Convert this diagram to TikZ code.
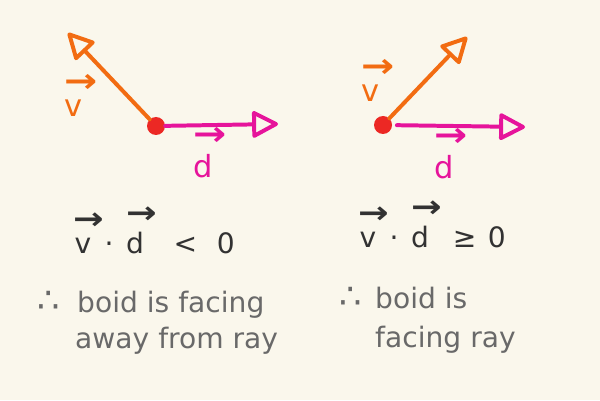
\documentclass[tikz,border=0pt]{standalone}
\usepackage{fontspec}
\setmainfont{DejaVu Sans}
\usetikzlibrary{arrows.meta}
\definecolor{paper}{RGB}{250,247,236}
\definecolor{velorange}{RGB}{242,108,18}
\definecolor{raymagenta}{RGB}{230,20,155}
\definecolor{boidred}{RGB}{236,40,36}
\definecolor{inkdark}{RGB}{50,50,50}
\definecolor{inkgray}{RGB}{105,105,105}
\newcommand{\vecover}[1]{\shortstack{\hspace*{0.45em}\scalebox{1.3}[1.1]{\textbf{→}}\\[0.15em]#1}}

\begin{document}
\begin{tikzpicture}[x=0.03cm, y=-0.03cm,
        boid/.style={circle, fill=boidred, minimum size=0.54cm, inner sep=0pt},
        vecline/.style={line width=3.4pt, line cap=round, line join=round, -{Triangle[open, length=0.85cm, width=0.85cm, line join=round]}},
        veclabel/.style={font=\fontsize{26}{26}\selectfont, inner sep=0pt, anchor=base},
        formula/.style={font=\fontsize{24}{24}\selectfont, text=inkdark, inner sep=0pt, anchor=base west},
        caption/.style={font=\fontsize{24}{24}\selectfont, text=inkgray, inner sep=0pt, anchor=base west},
        therefore/.style={font=\fontsize{30}{30}\selectfont, text=inkgray, inner sep=0pt, anchor=base east}
    ]
        \fill[paper] (0,0) rectangle (600,400);

        % facing away
        \node[boid] (boidL) at (156,126) {};
        \coordinate (vtipL) at (68,33);
        \coordinate (dtipL) at (278,124);
        \draw[vecline, velorange] (boidL) -- (vtipL);
        \draw[vecline, raymagenta] (boidL) -- (dtipL);
        \node[veclabel, text=velorange] (vlabL) at (74,117) {\vecover{v}};
        \node[veclabel, text=raymagenta] (dlabL) at (203,177) {\vecover{d}};
        \node[formula] (dotL) at (61,253) {\vecover{v}\hspace{0.0em}·\hspace{0.0em}\vecover{d}\hspace{0.6em}<\hspace{0.7em}0};
        \node[therefore] (thusL) at (60,312) {∴};
        \node[caption] (capL1) at (77,312) {boid is facing};
        \node[caption] (capL2) at (75,348) {away from ray};

        % facing towards
        \node[boid] (boidR) at (383,125) {};
        \coordinate (vtipR) at (467,37);
        \coordinate (dtipR) at (525,127);
        \draw[vecline, velorange] (boidR) -- (vtipR);
        \draw[vecline, raymagenta, shorten <=4pt] (boidR) -- (dtipR);
        \node[veclabel, text=velorange] (vlabR) at (371,102) {\vecover{v}};
        \node[veclabel, text=raymagenta] (dlabR) at (444,178) {\vecover{d}};
        \node[formula] (dotR) at (346,247) {\vecover{v}\hspace{0.0em}·\hspace{0.0em}\vecover{d}\hspace{0.4em}≥\hspace{0.4em}0};
        \node[therefore] (thusR) at (362,308) {∴};
        \node[caption] (capR1) at (375,308) {boid is};
        \node[caption] (capR2) at (375,347) {facing ray};
    \end{tikzpicture}
\end{document}
